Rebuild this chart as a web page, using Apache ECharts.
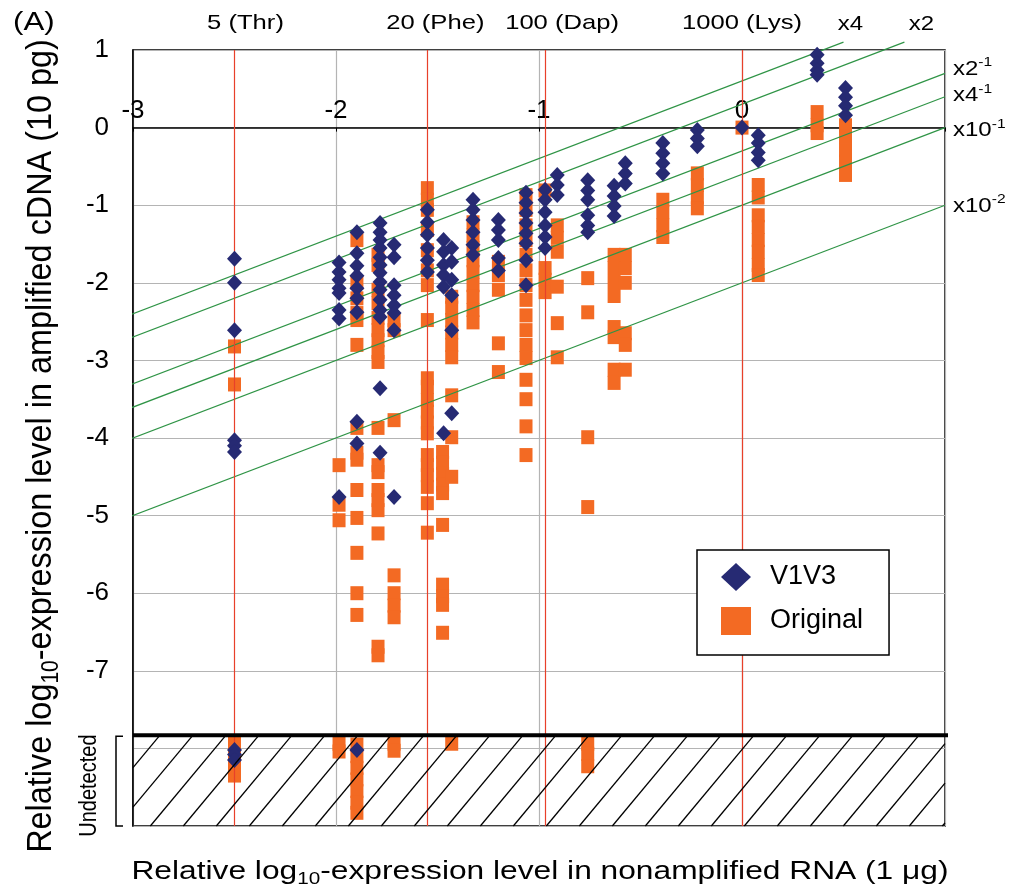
<!DOCTYPE html>
<html>
<head>
<meta charset="utf-8">
<script src="https://cdn.jsdelivr.net/npm/echarts@6/dist/echarts.min.js"></script>
<style>
html,body{margin:0;padding:0;background:#fff;}
#chart{width:1016px;height:894px;}
</style>
</head>
<body>
<div id="chart"></div>
<script>
// ---------------- data ----------------
// x = relative log10 expression in non-amplified RNA, one entry per gene column
const v1v3X = [-2.50, -1.985, -1.897, -1.783, -1.714, -1.55, -1.47, -1.43, -1.325, -1.20, -1.064,
               -0.97, -0.91, -0.76, -0.63, -0.575, -0.39, -0.22, 0.00, 0.08, 0.37, 0.51];
const v1v3Y = [
  [-1.69, -2.00, -2.61, -4.03, -4.10, -4.18, -8.02, -8.08, -8.15],
  [-1.74, -1.86, -1.96, -2.07, -2.13, -2.35, -2.46, -4.76],
  [-1.35, -1.62, -1.78, -1.91, -2.07, -2.20, -2.38, -3.79, -4.07, -8.02],
  [-1.23, -1.35, -1.45, -1.55, -1.67, -1.77, -1.87, -1.99, -2.09, -2.22, -2.35, -2.44, -3.36, -4.19],
  [-1.51, -1.67, -2.03, -2.16, -2.29, -2.39, -2.61, -4.76],
  [-1.06, -1.22, -1.38, -1.55, -1.71, -1.86],
  [-1.45, -1.60, -1.77, -1.90, -2.05, -3.94],
  [-1.55, -1.73, -1.96, -2.16, -2.61, -3.68],
  [-0.93, -1.06, -1.19, -1.35, -1.51, -1.64],
  [-1.19, -1.32, -1.45, -1.68, -1.84],
  [-0.84, -0.97, -1.10, -1.23, -1.36, -1.49, -1.71, -2.03],
  [-0.80, -0.93, -1.09, -1.26, -1.41, -1.55],
  [-0.61, -0.74, -0.87],
  [-0.68, -0.81, -0.93, -1.13, -1.26, -1.35],
  [-0.75, -0.88, -1.01, -1.14],
  [-0.46, -0.59, -0.72],
  [-0.20, -0.33, -0.46, -0.59],
  [-0.03, -0.14, -0.24],
  [0.00],
  [-0.10, -0.20, -0.32, -0.42],
  [0.94, 0.83, 0.74, 0.68],
  [0.51, 0.39, 0.28, 0.16]
];
const originalX = [-2.50, -1.985, -1.897, -1.793, -1.714, -1.55, -1.475, -1.43, -1.325, -1.20, -1.064,
                   -0.97, -0.91, -0.76, -0.63, -0.575, -0.39, -0.22, 0.00, 0.08, 0.37, 0.51];
const originalY = [
  [-2.82, -3.31, -7.94, -8.09, -8.24, -8.35],
  [-4.35, -4.86, -5.06, -7.94, -8.04],
  [-1.45, -2.00, -2.20, -2.39, -2.48, -2.80, -3.87, -4.19, -4.28, -4.67, -5.03, -5.48, -6.00, -6.28,
   -7.95, -8.10, -8.25, -8.40, -8.55, -8.70, -8.83],
  [-1.64, -1.77, -2.09, -2.26, -2.45, -2.61, -2.74, -2.89, -3.02, -3.87, -4.35, -4.44, -4.67, -4.80, -4.93, -5.23, -6.69, -6.80],
  [-2.48, -2.61, -3.77, -5.77, -6.00, -6.16, -6.31, -7.94, -8.03],
  [-0.78, -0.93, -1.06, -1.32, -1.58, -1.84, -2.03, -2.48, -3.23, -3.34, -3.51, -3.66, -3.80, -3.94,
   -4.22, -4.35, -4.48, -4.63, -4.84, -5.22],
  [-4.18, -4.32, -4.46, -4.60, -4.71, -5.12, -5.89, -6.04, -6.15, -6.51],
  [-2.18, -2.32, -2.48, -2.64, -2.80, -2.96, -3.45, -3.99, -4.50, -7.94],
  [-1.22, -1.39, -1.55, -1.71, -1.86, -2.03, -2.18, -2.35, -2.51],
  [-1.73, -1.90, -2.09, -2.78, -3.15],
  [-0.87, -1.06, -1.26, -1.45, -1.64, -1.84, -2.03, -2.22, -2.42, -2.61, -2.80, -2.97, -3.25, -3.50, -3.85, -4.22],
  [-0.81, -1.81, -1.96, -2.12],
  [-1.26, -1.42, -1.60, -2.05, -2.52, -2.96],
  [-1.94, -2.38, -3.99, -4.89, -7.94, -8.07, -8.23],
  [-1.64, -1.81, -1.99, -2.17, -2.57, -2.70, -3.12, -3.29],
  [-1.64, -1.81, -2.00, -2.65, -2.80, -3.12],
  [-0.93, -1.09, -1.26, -1.41],
  [-0.59, -0.74, -0.90, -1.04],
  [0.00],
  [-0.74, -0.90, -1.13, -1.28, -1.45, -1.60, -1.77, -1.90],
  [0.20, 0.03, -0.07],
  [0.03, -0.12, -0.29, -0.44, -0.61]
];
// marker genes (red vertical lines)
const spikeX = [-2.50, -1.55, -0.97, 0.00];
const spikeNames = ['5 (Thr)', '20 (Phe)', '100 (Dap)', '1000 (Lys)'];
// fold-change guide lines
const foldRatios = [4, 2, 0.5, 0.25, 0.1, 0.01];
const foldBase = ['x4', 'x2', 'x2', 'x4', 'x10', 'x10'];
const foldExp = ['', '', '-1', '-1', '-1', '-2'];
const foldXStart = -3.04;
const foldXEnd = [0.50, 0.80, 1, 1, 1, 1];
// undetected band
const undetectedBand = [-3, -7.83, 1, -9];
const xTickMax = 0;   // x tick labels shown up to 0
const yTickMin = -7;  // y tick labels shown down to -7

// ---------------- styling / layout ----------------
const BLUE = '#262a73', ORANGE = '#f36a23', RED = '#e8402a', GREEN = '#2f9446', GRIDC = '#b4b4b4';
const FONT = '"Liberation Sans", Arial, Helvetica, sans-serif';
const GRID_TOP = 50, GRID_H = 776, Y_MIN = -9, Y_MAX = 1;
const ZERO_OFFSET = -(Y_MAX - 0) / (Y_MAX - Y_MIN) * GRID_H; // x axis drawn on the y = 0 line

function toPoints(xs, ys) {
  const pts = [];
  xs.forEach((x, i) => ys[i].forEach(y => pts.push([x, y])));
  return pts;
}

const foldSeries = foldRatios.map((r, i) => ({
  type: 'line', name: '_fold' + i, silent: true, clip: false, symbol: 'none', z: 4,
  lineStyle: { color: GREEN, width: 1.2 },
  data: [[foldXStart, foldXStart + Math.log10(r)], [foldXEnd[i], foldXEnd[i] + Math.log10(r)]]
}));

const chart = echarts.init(document.getElementById('chart'));
const option = {
  animation: false,
  textStyle: { fontFamily: FONT },
  grid: { left: 133, top: GRID_TOP, width: 812, height: GRID_H, show: true, borderColor: '#000', borderWidth: 1.5, backgroundColor: 'rgba(0,0,0,0)' },
  xAxis: {
    type: 'value', min: -3, max: 1, interval: 1, position: 'top', offset: ZERO_OFFSET,
    axisLine: { onZero: false, lineStyle: { color: '#000', width: 1.5 } },
    axisTick: { show: true, inside: true, length: 4, lineStyle: { color: '#000', width: 1 } },
    axisLabel: { margin: 4, fontSize: 26, color: '#000', fontFamily: FONT,
      formatter: v => (v <= xTickMax ? String(v) : '') },
    splitLine: { show: true, lineStyle: { color: GRIDC, width: 1.2 } }
  },
  yAxis: {
    type: 'value', min: Y_MIN, max: Y_MAX, interval: 1,
    axisLine: { show: true, onZero: false, lineStyle: { color: '#000', width: 1.5 } },
    axisTick: { show: false },
    axisLabel: { margin: 24, fontSize: 26, color: '#000', fontFamily: FONT,
      formatter: v => (v >= yTickMin ? String(v) : '') },
    splitLine: { show: true, lineStyle: { color: GRIDC, width: 1.2 } }
  },
  legend: {
    left: 697, top: 550, orient: 'vertical', selectedMode: false,
    data: [{ name: 'V1V3', icon: 'diamond' }, { name: 'Original', icon: 'rect' }],
    itemWidth: 30, itemHeight: 28, itemGap: 16,
    padding: [13, 26, 20, 24],
    borderColor: '#000', borderWidth: 1.5, backgroundColor: '#fff',
    textStyle: { fontSize: 27, color: '#000', fontFamily: FONT, padding: [0, 0, 0, 14] },
    z: 20
  },
  series: [
    {
      type: 'scatter', name: '_spikes', data: [], silent: true, z: 1,
      markLine: {
        silent: true, symbol: ['none', 'none'], label: { show: false },
        lineStyle: { color: RED, width: 1.2, type: 'solid' },
        data: spikeX.map(x => ({ xAxis: x }))
      }
    },
    {
      type: 'scatter', name: 'Original', data: toPoints(originalX, originalY), silent: true, z: 3,
      symbol: 'rect', symbolSize: [13, 14], itemStyle: { color: ORANGE, opacity: 1 }
    },
    ...foldSeries,
    {
      type: 'scatter', name: 'V1V3', data: toPoints(v1v3X, v1v3Y), silent: true, z: 5,
      symbol: 'diamond', symbolSize: [15, 16], itemStyle: { color: BLUE, opacity: 1 }
    },
    {
      type: 'custom', name: '_hatch', silent: true, z: 7, data: [undetectedBand],
      renderItem: function (params, api) {
        const p0 = api.coord([api.value(0), api.value(1)]);
        const p1 = api.coord([api.value(2), api.value(3)]);
        const left = p0[0], top = p0[1], right = p1[0], bottom = p1[1];
        const h = bottom - top, run = h / 1.2, gap = 33, phase = left + 27;
        const children = [];
        const kStart = Math.floor((left - phase) / gap);
        const kEnd = Math.ceil((right + run - phase) / gap);
        for (let k = kStart; k <= kEnd; k++) {
          const xt = phase + k * gap;
          const t0 = Math.max(0, (xt - right) / run);
          const t1 = Math.min(1, (xt - left) / run);
          if (t1 <= t0) continue;
          children.push({
            type: 'line',
            shape: { x1: xt - run * t0, y1: top + h * t0, x2: xt - run * t1, y2: top + h * t1 },
            style: { stroke: '#000', lineWidth: 1.3 }
          });
        }
        children.push({ type: 'line', shape: { x1: left, y1: top, x2: right + 3, y2: top },
          style: { stroke: '#000', lineWidth: 4 } });
        return { type: 'group', children: children };
      }
    }
  ]
};
chart.setOption(option);

// ---------------- texts placed around the plot ----------------
const px = (x, y) => chart.convertToPixel({ gridIndex: 0 }, [x, y]);
function txt(str, x, y, size, align, sx, extra) {
  return Object.assign({
    type: 'text', x: x, y: y, scaleX: sx || 1, silent: true, z: 100,
    style: { text: str, fontSize: size, fontFamily: FONT, fill: '#000',
      textAlign: align, textVerticalAlign: 'middle', align: align, verticalAlign: 'middle' }
  }, extra || {});
}
const graphics = [];
graphics.push(txt('(A)', 13, 23, 25, 'left', 1.25));

const spikeShift = [11, 8, 17, 0];
spikeX.forEach((x, i) => {
  const p = px(x, 1);
  graphics.push(txt(spikeNames[i], p[0] + spikeShift[i], 23, 21, 'center', 1.22));
});

const foldLabelShift = [[7, -18], [17, -18], [8, -4], [8, -1], [8, 3], [8, 1]];
foldRatios.forEach((r, i) => {
  const p = px(foldXEnd[i], foldXEnd[i] + Math.log10(r));
  const align = i < 2 ? 'center' : 'left';
  const str = foldExp[i] ? '{b|' + foldBase[i] + '}{s|' + foldExp[i] + '}' : '{b|' + foldBase[i] + '}';
  const t = txt(str, p[0] + foldLabelShift[i][0], p[1] + foldLabelShift[i][1], 20, align, 1.2);
  t.style.rich = {
    b: { fontSize: 20, fontFamily: FONT, lineHeight: 26, fill: '#000' },
    s: { fontSize: 13, fontFamily: FONT, lineHeight: 13, verticalAlign: 'top', fill: '#000' }
  };
  graphics.push(t);
});

// y axis title (rotated)
const yTitle = txt('{m|Relative log}{s|10}{m|-expression level in amplified cDNA (10 pg)}', 41, 446, 32.4, 'center', 1,
  { rotation: Math.PI / 2, scaleY: 1.1 });
yTitle.style.rich = {
  m: { fontSize: 32.4, fontFamily: FONT, lineHeight: 40, fill: '#000' },
  s: { fontSize: 21, fontFamily: FONT, lineHeight: 21, verticalAlign: 'bottom', fill: '#000' }
};
graphics.push(yTitle);

// x axis title
const xTitle = txt('{m|Relative log}{s|10}{m|-expression level in nonamplified RNA (1 μg)}', 540, 872, 26, 'center', 1.22);
xTitle.style.rich = {
  m: { fontSize: 26, fontFamily: FONT, lineHeight: 32, fill: '#000' },
  s: { fontSize: 17, fontFamily: FONT, lineHeight: 17, verticalAlign: 'bottom', fill: '#000' }
};
graphics.push(xTitle);

// undetected bracket + label
const bTop = px(-3, undetectedBand[1])[1];
const bBot = px(-3, undetectedBand[3])[1];
graphics.push({
  type: 'polyline', silent: true, z: 100,
  shape: { points: [[123, bTop + 1], [116, bTop + 1], [116, bBot], [123, bBot]] },
  style: { stroke: '#000', lineWidth: 1.5, fill: null }
});
graphics.push(txt('Undetected', 90, (bTop + bBot) / 2 + 5, 20, 'center', 1, { rotation: Math.PI / 2, scaleY: 1.15 }));

chart.setOption({ graphic: graphics });
</script>
</body>
</html>
